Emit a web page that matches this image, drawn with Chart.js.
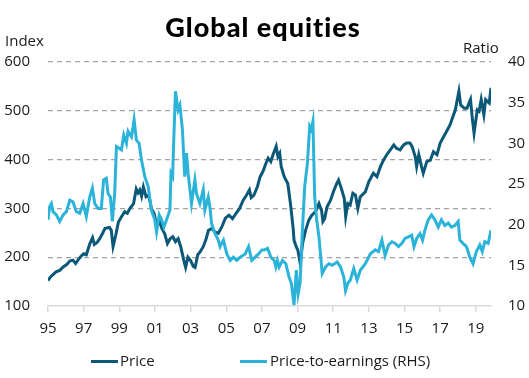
<!DOCTYPE html>
<html>
<head>
<meta charset="utf-8">
<script src="https://cdn.jsdelivr.net/npm/chart.js@4/dist/chart.umd.min.js"></script>
<style>
  html, body { margin: 0; padding: 0; background: #fff; }
  #wrap { position: relative; width: 529px; height: 378px; overflow: hidden; }
  #c { position: absolute; left: 0; top: 0; }
  .txt { position: absolute; font-family: "Open Sans", sans-serif; font-size: 15px; color: #1a1a1a; white-space: nowrap; line-height: 1; }
  #title { position: absolute; left: 0; width: 526px; top: 13px; text-align: center; font-family: Lato, sans-serif; font-weight: 900; font-size: 27px; letter-spacing: 1px; color: #000; line-height: 1; }
  .sw { position: absolute; height: 3px; width: 27px; }
</style>
</head>
<body>
<div id="wrap">
  <canvas id="c" width="529" height="378"></canvas>
  <div id="title">Global equities</div>
  <div class="txt" id="lIdx" style="left:5px; top:33px;">Index</div>
  <div class="txt" id="lRat" style="left:463px; top:40px;">Ratio</div>
  <div class="sw" style="left:91px; top:360px; background:#0b5878;"></div>
  <div class="txt" style="left:120px; top:353px;">Price</div>
  <div class="sw" style="left:240px; top:360px; background:#2bb3da;"></div>
  <div class="txt" style="left:270px; top:353px;">Price-to-earnings (RHS)</div>
</div>
<script>
// ---- data (decimal years) ----
const priceDates = [1995.00,1995.15,1995.30,1995.45,1995.66,1995.85,1996.05,1996.22,1996.40,1996.55,1996.70,1996.85,1997.00,1997.15,1997.35,1997.50,1997.60,1997.75,1997.90,1998.05,1998.20,1998.45,1998.55,1998.65,1998.80,1998.95,1999.12,1999.30,1999.45,1999.60,1999.80,1999.95,2000.05,2000.15,2000.25,2000.35,2000.50,2000.65,2000.80,2000.95,2001.10,2001.25,2001.40,2001.55,2001.70,2001.85,2002.00,2002.15,2002.30,2002.45,2002.60,2002.72,2002.85,2003.00,2003.15,2003.25,2003.40,2003.55,2003.70,2003.85,2004.00,2004.20,2004.35,2004.55,2004.75,2004.95,2005.15,2005.35,2005.55,2005.75,2005.95,2006.15,2006.30,2006.40,2006.55,2006.75,2006.90,2007.05,2007.20,2007.35,2007.50,2007.62,2007.80,2007.90,2008.00,2008.08,2008.25,2008.45,2008.60,2008.75,2008.80,2008.93,2009.02,2009.15,2009.28,2009.45,2009.63,2009.80,2010.00,2010.20,2010.35,2010.42,2010.52,2010.65,2010.85,2011.05,2011.20,2011.30,2011.48,2011.62,2011.70,2011.82,2011.95,2012.10,2012.25,2012.38,2012.52,2012.80,2013.00,2013.25,2013.45,2013.65,2013.82,2014.00,2014.20,2014.40,2014.55,2014.75,2014.95,2015.12,2015.30,2015.42,2015.60,2015.68,2015.80,2015.95,2016.05,2016.25,2016.45,2016.62,2016.82,2017.00,2017.30,2017.55,2017.85,2018.05,2018.15,2018.35,2018.50,2018.70,2018.80,2018.90,2019.08,2019.18,2019.30,2019.45,2019.55,2019.75,2019.85];
const priceValues = [152,160,165,170,173,180,185,192,194,187,195,202,207,205,228,240,226,230,238,248,259,261,255,222,245,272,283,293,290,300,310,340,332,338,325,344,324,327,300,290,265,273,258,248,228,238,242,232,238,221,196,179,200,193,181,179,205,212,221,235,255,259,252,249,262,280,286,279,290,300,317,328,338,322,327,345,365,375,390,403,396,410,427,406,413,386,365,351,310,260,235,221,214,187,228,255,276,286,293,310,295,273,279,303,317,338,351,358,338,320,283,310,307,331,327,300,324,334,355,372,365,386,399,410,420,430,423,420,430,434,434,427,406,386,410,386,372,396,399,416,410,434,454,471,502,540,512,505,505,523,485,454,502,499,523,492,523,516,547];

const peDates = [1995.00,1995.09,1995.19,1995.28,1995.47,1995.66,1995.85,1996.03,1996.22,1996.40,1996.59,1996.78,1996.97,1997.15,1997.34,1997.49,1997.62,1997.81,1997.99,1998.12,1998.27,1998.37,1998.50,1998.61,1998.74,1998.84,1998.99,1999.12,1999.25,1999.40,1999.49,1999.68,1999.78,1999.83,1999.96,2000.11,2000.24,2000.43,2000.62,2000.80,2000.99,2001.09,2001.24,2001.37,2001.50,2001.65,2001.84,2001.90,2001.99,2002.06,2002.15,2002.30,2002.40,2002.54,2002.67,2002.77,2002.86,2003.05,2003.24,2003.33,2003.52,2003.71,2003.80,2003.99,2004.08,2004.18,2004.37,2004.55,2004.65,2004.84,2005.03,2005.22,2005.40,2005.59,2005.78,2006.06,2006.25,2006.43,2006.62,2006.81,2007.00,2007.13,2007.32,2007.50,2007.69,2007.78,2007.87,2007.97,2008.15,2008.34,2008.52,2008.65,2008.80,2008.93,2009.03,2009.14,2009.27,2009.40,2009.55,2009.68,2009.77,2009.86,2009.96,2010.07,2010.20,2010.38,2010.57,2010.76,2010.94,2011.22,2011.41,2011.59,2011.69,2011.82,2011.96,2012.15,2012.34,2012.52,2012.80,2013.08,2013.36,2013.54,2013.73,2013.91,2014.10,2014.29,2014.48,2014.66,2014.85,2015.03,2015.22,2015.40,2015.53,2015.68,2015.87,2016.01,2016.14,2016.33,2016.52,2016.70,2016.89,2017.07,2017.26,2017.45,2017.63,2017.82,2018.01,2018.10,2018.28,2018.47,2018.66,2018.84,2019.03,2019.22,2019.36,2019.50,2019.69,2019.85];
const peValues = [20.6,22.2,22.6,21.6,21.2,20.4,21.2,21.6,23.0,22.8,21.6,21.4,22.6,21.0,23.4,24.5,22.6,22.0,22.0,25.5,25.7,23.8,23.4,20.4,23.8,29.6,29.4,29.2,31.0,30.0,31.5,30.8,32.1,32.9,30.4,30.0,28.0,25.9,24.7,21.8,20.6,19.1,21.2,20.6,19.7,20.6,21.8,26.3,25.9,30.8,36.4,34.1,34.7,31.7,25.9,28.8,26.3,22.6,25.5,23.8,22.6,24.3,21.8,23.4,22.2,20.1,18.9,18.1,17.3,18.1,16.4,15.6,16.0,15.6,16.0,16.4,17.3,15.6,16.0,16.4,16.9,16.9,17.1,16.0,15.6,14.8,15.6,14.8,15.6,15.2,13.6,12.8,10.1,14.4,11.5,12.8,19.3,24.7,27.5,32.1,31.7,32.7,23.4,20.6,18.5,14.0,14.8,15.2,15.0,15.4,14.8,13.6,11.9,12.8,13.2,14.6,13.2,14.4,15.2,16.4,16.9,16.7,18.1,16.2,17.5,17.9,17.7,17.3,17.7,18.3,18.5,18.7,17.3,18.3,18.9,18.1,19.3,20.6,21.2,20.6,19.7,20.6,19.9,20.2,19.7,19.9,20.4,18.1,17.7,17.3,16.0,15.2,16.7,17.5,16.7,17.9,17.7,19.3];

const tickYears = [1995,1997,1999,2001,2003,2005,2007,2009,2011,2013,2015,2017,2019];
const tickLabels = ['95','97','99','01','03','05','07','09','11','13','15','17','19'];
const leftTicks = [100,200,300,400,500,600];
const rightTicks = [10,15,20,25,30,35,40];

const DARK = '#0b5878';
const LIGHT = '#2bb3da';
const FONT = { family: 'Open Sans', size: 15 };

function pts(xs, ys) { return xs.map((x, i) => ({ x: x, y: ys[i] })); }

new Chart(document.getElementById('c'), {
  type: 'line',
  data: {
    datasets: [
      { label: 'Price-to-earnings (RHS)', data: pts(peDates, peValues), yAxisID: 'y1',
        borderColor: LIGHT, backgroundColor: LIGHT, borderWidth: 3, pointRadius: 0, tension: 0 },
      { label: 'Price', data: pts(priceDates, priceValues), yAxisID: 'y',
        borderColor: DARK, backgroundColor: DARK, borderWidth: 3, pointRadius: 0, tension: 0 }
    ]
  },
  options: {
    responsive: false,
    animation: false,
    events: [],
    layout: { padding: { left: 0, right: 0, top: 62, bottom: 32 } },
    plugins: { legend: { display: false }, title: { display: false }, tooltip: { enabled: false } },
    scales: {
      x: {
        type: 'linear', min: 1995, max: 2019.85,
        afterBuildTicks: s => { s.ticks = tickYears.map(v => ({ value: v })); },
        afterFit: s => { s.height = 40; },
        ticks: { font: FONT, color: '#1a1a1a', padding: 8, maxRotation: 0,
          callback: (v) => { const i = tickYears.indexOf(v); return i >= 0 ? tickLabels[i] : ''; } },
        grid: { drawOnChartArea: false, drawTicks: true, tickLength: 6, color: '#d9d9d9', lineWidth: 1.5 },
        border: { display: true, color: '#d9d9d9', width: 1.5 }
      },
      y: {
        position: 'left', min: 100, max: 600,
        afterBuildTicks: s => { s.ticks = leftTicks.map(v => ({ value: v })); },
        afterFit: s => { s.width = 48; },
        ticks: { font: FONT, color: '#1a1a1a', padding: 18 },
        grid: { drawTicks: false, lineWidth: 1.2,
          color: ctx => (ctx.tick && ctx.tick.value === 100) ? 'rgba(0,0,0,0)' : '#a3a3a3' },
        border: { display: false, dash: [5, 4] }
      },
      y1: {
        position: 'right', min: 10, max: 40,
        afterBuildTicks: s => { s.ticks = rightTicks.map(v => ({ value: v })); },
        afterFit: s => { s.width = 38; },
        ticks: { font: FONT, color: '#1a1a1a', padding: 17 },
        grid: { drawOnChartArea: false, drawTicks: false },
        border: { display: false }
      }
    }
  }
});
</script>
</body>
</html>
